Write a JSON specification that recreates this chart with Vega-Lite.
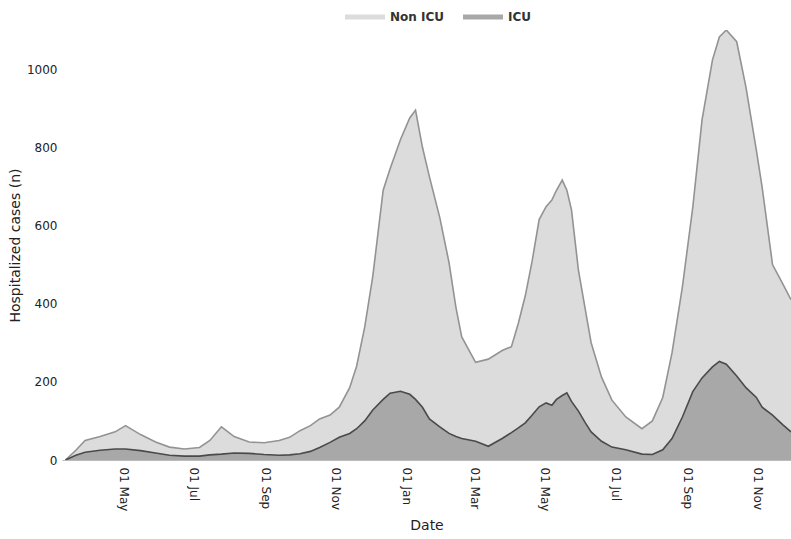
{
  "$schema": "https://vega.github.io/schema/vega-lite/v6.json",
  "width": 729,
  "height": 430,
  "autosize": {"type": "none"},
  "padding": {"left": 62, "top": 30, "right": 0, "bottom": 79},
  "config": {"view": {"stroke": null}, "font": "DejaVu Sans"},
  "datasets": {
    "hosp": [
      {"date":"2020-03-12","type":"Non ICU","n":0},{"date":"2020-03-12","type":"ICU","n":0},
      {"date":"2020-03-21","type":"Non ICU","n":13},{"date":"2020-03-21","type":"ICU","n":12},
      {"date":"2020-03-29","type":"Non ICU","n":30},{"date":"2020-03-29","type":"ICU","n":20},
      {"date":"2020-04-11","type":"Non ICU","n":35},{"date":"2020-04-11","type":"ICU","n":25},
      {"date":"2020-04-24","type":"Non ICU","n":44},{"date":"2020-04-24","type":"ICU","n":28},
      {"date":"2020-05-03","type":"Non ICU","n":60},{"date":"2020-05-03","type":"ICU","n":28},
      {"date":"2020-05-16","type":"Non ICU","n":41},{"date":"2020-05-16","type":"ICU","n":24},
      {"date":"2020-05-29","type":"Non ICU","n":28},{"date":"2020-05-29","type":"ICU","n":18},
      {"date":"2020-06-10","type":"Non ICU","n":21},{"date":"2020-06-10","type":"ICU","n":12},
      {"date":"2020-06-23","type":"Non ICU","n":18},{"date":"2020-06-23","type":"ICU","n":10},
      {"date":"2020-07-06","type":"Non ICU","n":22},{"date":"2020-07-06","type":"ICU","n":10},
      {"date":"2020-07-15","type":"Non ICU","n":37},{"date":"2020-07-15","type":"ICU","n":13},
      {"date":"2020-07-25","type":"Non ICU","n":70},{"date":"2020-07-25","type":"ICU","n":15},
      {"date":"2020-08-05","type":"Non ICU","n":42},{"date":"2020-08-05","type":"ICU","n":18},
      {"date":"2020-08-18","type":"Non ICU","n":29},{"date":"2020-08-18","type":"ICU","n":17},
      {"date":"2020-08-31","type":"Non ICU","n":30},{"date":"2020-08-31","type":"ICU","n":14},
      {"date":"2020-09-13","type":"Non ICU","n":38},{"date":"2020-09-13","type":"ICU","n":12},
      {"date":"2020-09-22","type":"Non ICU","n":45},{"date":"2020-09-22","type":"ICU","n":13},
      {"date":"2020-10-01","type":"Non ICU","n":59},{"date":"2020-10-01","type":"ICU","n":16},
      {"date":"2020-10-10","type":"Non ICU","n":66},{"date":"2020-10-10","type":"ICU","n":22},
      {"date":"2020-10-18","type":"Non ICU","n":73},{"date":"2020-10-18","type":"ICU","n":32},
      {"date":"2020-10-27","type":"Non ICU","n":70},{"date":"2020-10-27","type":"ICU","n":45},
      {"date":"2020-11-04","type":"Non ICU","n":77},{"date":"2020-11-04","type":"ICU","n":58},
      {"date":"2020-11-13","type":"Non ICU","n":117},{"date":"2020-11-13","type":"ICU","n":68},
      {"date":"2020-11-19","type":"Non ICU","n":160},{"date":"2020-11-19","type":"ICU","n":80},
      {"date":"2020-11-26","type":"Non ICU","n":240},{"date":"2020-11-26","type":"ICU","n":100},
      {"date":"2020-12-03","type":"Non ICU","n":342},{"date":"2020-12-03","type":"ICU","n":128},
      {"date":"2020-12-12","type":"Non ICU","n":535},{"date":"2020-12-12","type":"ICU","n":155},
      {"date":"2020-12-18","type":"Non ICU","n":574},{"date":"2020-12-18","type":"ICU","n":171},
      {"date":"2020-12-27","type":"Non ICU","n":644},{"date":"2020-12-27","type":"ICU","n":176},
      {"date":"2021-01-04","type":"Non ICU","n":707},{"date":"2021-01-04","type":"ICU","n":168},
      {"date":"2021-01-09","type":"Non ICU","n":740},{"date":"2021-01-09","type":"ICU","n":155},
      {"date":"2021-01-15","type":"Non ICU","n":665},{"date":"2021-01-15","type":"ICU","n":135},
      {"date":"2021-01-21","type":"Non ICU","n":620},{"date":"2021-01-21","type":"ICU","n":105},
      {"date":"2021-01-30","type":"Non ICU","n":535},{"date":"2021-01-30","type":"ICU","n":85},
      {"date":"2021-02-07","type":"Non ICU","n":437},{"date":"2021-02-07","type":"ICU","n":68},
      {"date":"2021-02-13","type":"Non ICU","n":330},{"date":"2021-02-13","type":"ICU","n":60},
      {"date":"2021-02-18","type":"Non ICU","n":260},{"date":"2021-02-18","type":"ICU","n":55},
      {"date":"2021-03-02","type":"Non ICU","n":202},{"date":"2021-03-02","type":"ICU","n":48},
      {"date":"2021-03-13","type":"Non ICU","n":223},{"date":"2021-03-13","type":"ICU","n":35},
      {"date":"2021-03-25","type":"Non ICU","n":225},{"date":"2021-03-25","type":"ICU","n":55},
      {"date":"2021-04-02","type":"Non ICU","n":220},{"date":"2021-04-02","type":"ICU","n":70},
      {"date":"2021-04-08","type":"Non ICU","n":268},{"date":"2021-04-08","type":"ICU","n":82},
      {"date":"2021-04-14","type":"Non ICU","n":325},{"date":"2021-04-14","type":"ICU","n":95},
      {"date":"2021-04-20","type":"Non ICU","n":395},{"date":"2021-04-20","type":"ICU","n":115},
      {"date":"2021-04-26","type":"Non ICU","n":479},{"date":"2021-04-26","type":"ICU","n":136},
      {"date":"2021-05-02","type":"Non ICU","n":502},{"date":"2021-05-02","type":"ICU","n":146},
      {"date":"2021-05-07","type":"Non ICU","n":525},{"date":"2021-05-07","type":"ICU","n":140},
      {"date":"2021-05-11","type":"Non ICU","n":535},{"date":"2021-05-11","type":"ICU","n":155},
      {"date":"2021-05-16","type":"Non ICU","n":551},{"date":"2021-05-16","type":"ICU","n":165},
      {"date":"2021-05-20","type":"Non ICU","n":518},{"date":"2021-05-20","type":"ICU","n":172},
      {"date":"2021-05-24","type":"Non ICU","n":490},{"date":"2021-05-24","type":"ICU","n":150},
      {"date":"2021-05-30","type":"Non ICU","n":361},{"date":"2021-05-30","type":"ICU","n":125},
      {"date":"2021-06-05","type":"Non ICU","n":289},{"date":"2021-06-05","type":"ICU","n":95},
      {"date":"2021-06-10","type":"Non ICU","n":228},{"date":"2021-06-10","type":"ICU","n":72},
      {"date":"2021-06-19","type":"Non ICU","n":164},{"date":"2021-06-19","type":"ICU","n":48},
      {"date":"2021-06-28","type":"Non ICU","n":120},{"date":"2021-06-28","type":"ICU","n":33},
      {"date":"2021-07-10","type":"Non ICU","n":84},{"date":"2021-07-10","type":"ICU","n":26},
      {"date":"2021-07-24","type":"Non ICU","n":65},{"date":"2021-07-24","type":"ICU","n":15},
      {"date":"2021-08-02","type":"Non ICU","n":86},{"date":"2021-08-02","type":"ICU","n":14},
      {"date":"2021-08-11","type":"Non ICU","n":134},{"date":"2021-08-11","type":"ICU","n":26},
      {"date":"2021-08-19","type":"Non ICU","n":219},{"date":"2021-08-19","type":"ICU","n":55},
      {"date":"2021-08-28","type":"Non ICU","n":333},{"date":"2021-08-28","type":"ICU","n":110},
      {"date":"2021-09-06","type":"Non ICU","n":472},{"date":"2021-09-06","type":"ICU","n":175},
      {"date":"2021-09-14","type":"Non ICU","n":660},{"date":"2021-09-14","type":"ICU","n":210},
      {"date":"2021-09-23","type":"Non ICU","n":785},{"date":"2021-09-23","type":"ICU","n":238},
      {"date":"2021-09-29","type":"Non ICU","n":830},{"date":"2021-09-29","type":"ICU","n":252},
      {"date":"2021-10-05","type":"Non ICU","n":855},{"date":"2021-10-05","type":"ICU","n":245},
      {"date":"2021-10-14","type":"Non ICU","n":855},{"date":"2021-10-14","type":"ICU","n":215},
      {"date":"2021-10-22","type":"Non ICU","n":769},{"date":"2021-10-22","type":"ICU","n":185},
      {"date":"2021-10-31","type":"Non ICU","n":633},{"date":"2021-10-31","type":"ICU","n":160},
      {"date":"2021-11-05","type":"Non ICU","n":563},{"date":"2021-11-05","type":"ICU","n":135},
      {"date":"2021-11-14","type":"Non ICU","n":385},{"date":"2021-11-14","type":"ICU","n":115},
      {"date":"2021-11-23","type":"Non ICU","n":360},{"date":"2021-11-23","type":"ICU","n":90},
      {"date":"2021-11-30","type":"Non ICU","n":338},{"date":"2021-11-30","type":"ICU","n":72}
    ]
  },
  "data": {"name": "hosp"},
  "transform": [
    {"stack": "n", "groupby": ["date"], "sort": [{"field": "type", "order": "ascending"}], "as": ["n0", "n1"]}
  ],
  "encoding": {
    "x": {
      "field": "date", "type": "temporal",
      "scale": {"domain": ["2020-03-09", "2021-11-30"]},
      "axis": {
        "title": "Date", "titleFontSize": 14, "titleFontWeight": "normal", "titleColor": "#222", "titlePadding": 8,
        "format": "%d %b", "labelAngle": 90, "labelAlign": "left", "labelBaseline": "middle",
        "labelFontSize": 12, "labelColor": "#222", "ticks": false, "domainColor": "#bbbbbb", "grid": false,
        "tickCount": {"interval": "month", "step": 2}, "labelPadding": 7, "labelFlush": false, "labelOverlap": false
      }
    },
    "y": {
      "field": "n1", "type": "quantitative",
      "scale": {"domain": [0, 1100]},
      "axis": {
        "title": "Hospitalized cases (n)", "titleFontSize": 14, "titleFontWeight": "normal", "titleColor": "#222", "titlePadding": 4,
        "values": [0, 200, 400, 600, 800, 1000], "format": "d", "grid": false, "domain": false, "ticks": false,
        "labelPadding": 5, "labelFontSize": 12, "labelColor": "#222"
      }
    }
  },
  "layer": [
    {
      "mark": {"type": "area", "clip": true},
      "encoding": {
        "y2": {"field": "n0"},
        "color": {
          "field": "type", "type": "nominal",
          "scale": {"domain": ["Non ICU", "ICU"], "range": ["#dcdcdc", "#a8a8a8"]},
          "legend": {
            "title": null, "orient": "none", "legendX": 283, "legendY": -33, "direction": "horizontal",
            "symbolType": "M-1,-0.12H1V0.12H-1Z", "symbolSize": 1600, "symbolStrokeWidth": 0,
            "labelFontSize": 12, "labelFontWeight": "bold", "labelColor": "#333", "columnPadding": 18, "labelOffset": 5, "padding": 0
          }
        }
      }
    },
    {
      "mark": {"type": "line", "clip": true, "strokeWidth": 1.6},
      "encoding": {
        "stroke": {
          "field": "type", "type": "nominal",
          "scale": {"domain": ["Non ICU", "ICU"], "range": ["#939393", "#4a4a4a"]},
          "legend": null
        }
      }
    }
  ]
}
